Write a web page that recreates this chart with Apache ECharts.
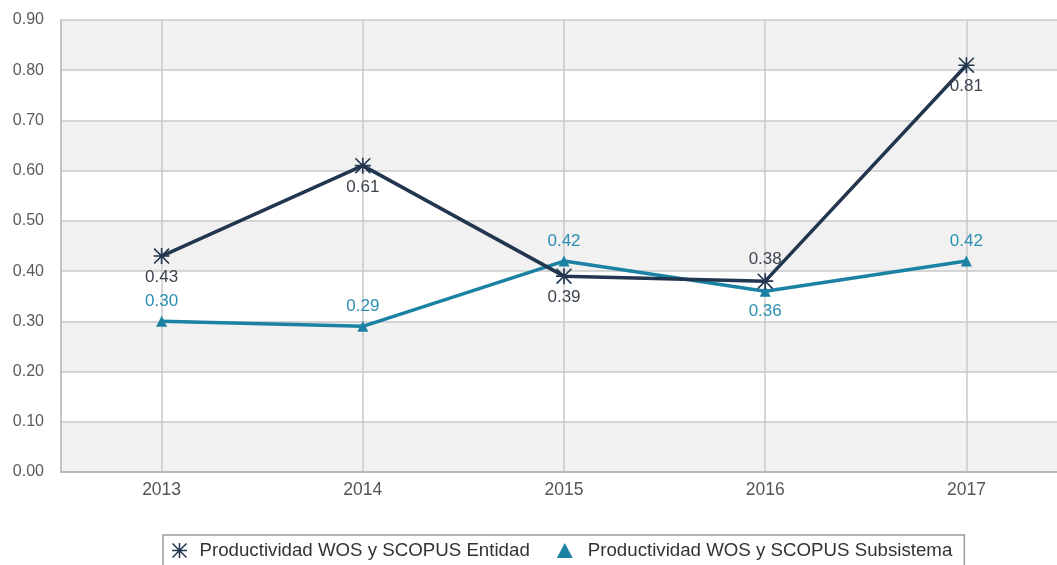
<!DOCTYPE html>
<html><head><meta charset="utf-8">
<script src="https://cdn.jsdelivr.net/npm/echarts@6/dist/echarts.min.js"></script>
<style>html,body{margin:0;padding:0;background:#fff;overflow:hidden}#c{width:1057px;height:565px}</style>
</head><body><div id="c"></div>
<script>
const categories = ['2013','2014','2015','2016','2017'];
const entidad = [0.43, 0.61, 0.39, 0.38, 0.81];
const subsistema = [0.30, 0.29, 0.42, 0.36, 0.42];
const seriesNames = ['Productividad WOS y SCOPUS Entidad', 'Productividad WOS y SCOPUS Subsistema'];

const entidadLabelPos = ['bottom','bottom','bottom','top','bottom'];
const subLabelPos = ['top','top','top','bottom','top'];

const star = 'path://M0,9L20,9L20,11L0,11Z M9,0L11,0L11,20L9,20Z M1.4,0L20,18.6L18.6,20L0,1.4Z M18.6,0L20,1.4L1.4,20L0,18.6Z';
const font = 'Arial, "Liberation Sans", sans-serif';
const navy = '#22364f';
const teal = '#1b82a4';

const chart = echarts.init(document.getElementById('c'));
chart.setOption({
  animation: false,
  textStyle: {fontFamily: font},
  grid: {left: 61, top: 20, bottom: 93, width: 1006, containLabel: false, outerBoundsMode: 'none'},
  xAxis: {
    type: 'category', data: categories, boundaryGap: true,
    axisLine: {lineStyle: {color: '#b0b0b0', width: 1.5}},
    axisTick: {show: false, alignWithLabel: true},
    splitLine: {show: true, alignWithLabel: true, lineStyle: {color: '#c8c8c8', width: 1.5}},
    axisLabel: {color: '#555', fontSize: 17.5, margin: 9, fontFamily: font}
  },
  yAxis: {
    type: 'value', min: 0, max: 0.9, interval: 0.1,
    axisLine: {show: true, lineStyle: {color: '#b0b0b0', width: 1.5}},
    axisTick: {show: false},
    splitLine: {lineStyle: {color: '#c8c8c8', width: 1.5}},
    splitArea: {show: true, areaStyle: {color: ['#f1f1f1', '#ffffff']}},
    axisLabel: {color: '#5a5a5a', fontSize: 16, margin: 17, fontFamily: font, formatter: v => v.toFixed(2)}
  },
  legend: {
    top: 535, left: 163,
    borderColor: '#9a9a9a', borderWidth: 1.5,
    padding: [6, 12, 14, 9], itemGap: 27, itemWidth: 16, itemHeight: 15,
    textStyle: {fontSize: 18.7, color: '#333', fontFamily: font},
    data: [
      {name: seriesNames[0], icon: star, itemStyle: {color: navy}, textStyle: {padding: [0, 0, 0, 7]}},
      {name: seriesNames[1], icon: 'triangle', itemStyle: {color: teal}, textStyle: {padding: [0, 0, 0, 10]}}
    ]
  },
  series: [
    {
      name: seriesNames[0], type: 'line',
      data: entidad.map((v, i) => ({value: v, label: {position: entidadLabelPos[i]}})),
      symbol: star, symbolSize: 16,
      lineStyle: {color: navy, width: 3.5},
      itemStyle: {color: navy},
      label: {show: true, color: '#3d4550', fontSize: 17, fontFamily: font, distance: 5, formatter: p => p.value.toFixed(2)},
      z: 3
    },
    {
      name: seriesNames[1], type: 'line',
      data: subsistema.map((v, i) => ({value: v, label: {position: subLabelPos[i]}})),
      symbol: 'triangle', symbolSize: 11,
      lineStyle: {color: teal, width: 3.5},
      itemStyle: {color: teal},
      label: {show: true, color: '#2a8fb2', fontSize: 17, fontFamily: font, distance: 6, formatter: p => p.value.toFixed(2)},
      z: 2
    }
  ]
});
</script>
</body></html>
